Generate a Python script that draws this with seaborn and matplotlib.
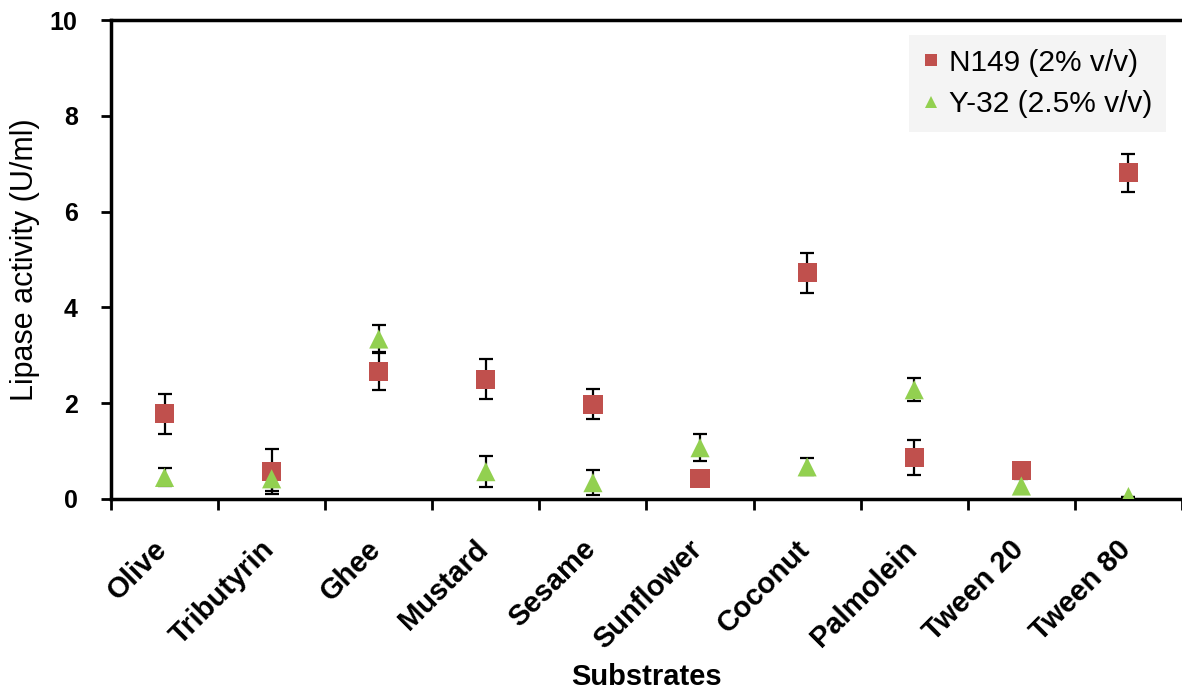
import matplotlib
matplotlib.use("Agg")
import matplotlib.pyplot as plt
import matplotlib.transforms as mtransforms
import numpy as np
import pandas as pd
import seaborn as sns

# data
substrates = ["Olive", "Tributyrin", "Ghee", "Mustard", "Sesame",
              "Sunflower", "Coconut", "Palmolein", "Tween 20", "Tween 80"]
n149_mean = [1.78, 0.57, 2.67, 2.50, 1.98, 0.42, 4.72, 0.86, 0.60, 6.81]
n149_err = [0.42, 0.47, 0.39, 0.42, 0.31, 0.0, 0.42, 0.37, 0.0, 0.39]
y32_mean = [0.45, 0.42, 3.34, 0.57, 0.34, 1.07, 0.67, 2.28, 0.27, 0.05]
y32_err = [0.19, 0.25, 0.29, 0.33, 0.26, 0.28, 0.18, 0.24, 0.15, 0.0]

series_names = ["N149 (2% v/v)", "Y-32 (2.5% v/v)"]
red = "#C0504D"
green = "#92D050"

df = pd.DataFrame({
    "Substrates": substrates * 2,
    "activity": n149_mean + y32_mean,
    "err": n149_err + y32_err,
    "strain": [series_names[0]] * len(substrates) + [series_names[1]] * len(substrates),
})

sns.set_style("white")
plt.rcParams["font.family"] = ["Liberation Sans", "DejaVu Sans"]
for key in ["text.color", "axes.labelcolor", "xtick.color", "ytick.color"]:
    plt.rcParams[key] = "black"

fig = plt.figure(figsize=(11.82, 6.92), dpi=100)
ax = fig.add_axes([0.0939, 0.279, 0.9061, 0.692])

# error bars first so markers sit on top
for name, sub in df.groupby("strain", sort=False):
    ax.errorbar(sub["Substrates"], sub["activity"], yerr=sub["err"],
                fmt="none", ecolor="black", elinewidth=1.6, capsize=4.8,
                capthick=1.6, zorder=2)

sns.scatterplot(data=df, x="Substrates", y="activity", hue="strain",
                style="strain", markers=["s", "^"],
                palette=[red, green], s=190, linewidth=0, zorder=3, ax=ax)

ax.set_ylim(0, 10)
ax.set_xlim(-0.5, len(substrates) - 0.5)
ax.set_yticks([0, 2, 4, 6, 8, 10])
ax.set_yticklabels(["0", "2", "4", "6", "8", "10"], fontsize=18, fontweight="bold")

ax.set_xticks(np.arange(len(substrates)))
ax.set_xticklabels(substrates, rotation=45, ha="right", va="top",
                   rotation_mode="anchor", fontsize=21, fontweight="bold")
ax.tick_params(axis="x", which="major", length=0, pad=26)
shift = mtransforms.ScaledTranslation(-12 / 100, 0, fig.dpi_scale_trans)
for lbl in ax.get_xticklabels():
    lbl.set_transform(lbl.get_transform() + shift)
ax.set_xticks(np.arange(-0.5, len(substrates) + 0.5, 1), minor=True)
ax.tick_params(axis="x", which="minor", direction="out", length=8, width=2,
               color="black", bottom=True)
ax.tick_params(axis="y", direction="out", length=7, width=2, color="black",
               left=True, pad=17)

for side in ["left", "bottom", "top"]:
    ax.spines[side].set_visible(True)
    ax.spines[side].set_color("black")
    ax.spines[side].set_linewidth(2.5)
ax.spines["right"].set_visible(False)

ax.set_xlabel("Substrates", fontsize=21, fontweight="bold")
ax.xaxis.set_label_coords(0.5, -0.342)
ax.set_ylabel("Lipase activity (U/ml)", fontsize=22, labelpad=7)

leg = ax.legend(loc="upper right", bbox_to_anchor=(0.999, 0.999), fontsize=21.5,
                frameon=True, facecolor="#F4F4F4", edgecolor="none",
                handletextpad=0.3, borderpad=0.45, labelspacing=0.45,
                markerscale=0.6, handlelength=0.6, fancybox=False)
leg.get_frame().set_alpha(1)

fig.savefig("out.png", dpi=100)
